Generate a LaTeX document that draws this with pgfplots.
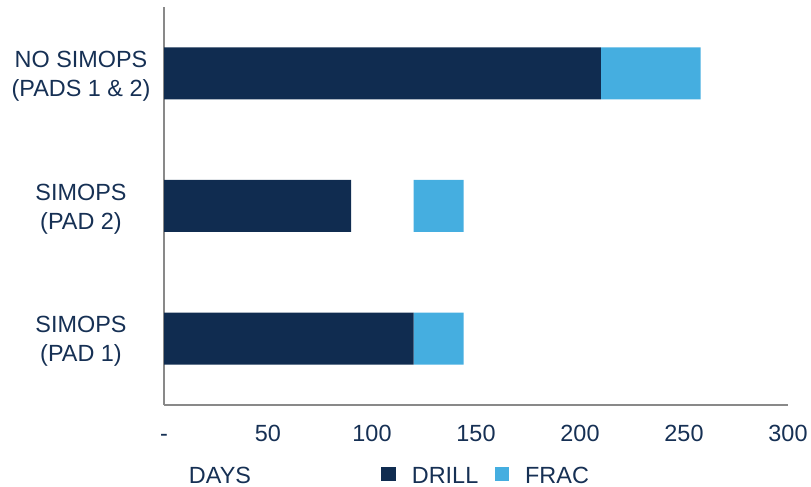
\documentclass[border=0pt]{standalone}
\usepackage{fontspec}
\setmainfont{Liberation Sans}
\usepackage{pgfplots}
\pgfplotsset{compat=1.18}
\definecolor{drill}{RGB}{16,44,80}
\definecolor{frac}{RGB}{69,174,224}
\definecolor{txt}{RGB}{22,48,84}
\definecolor{axgray}{RGB}{137,137,137}
\newcommand{\chartfont}{\fontsize{23.5}{29}\selectfont}
\begin{document}
\begin{tikzpicture}
\useasboundingbox (0,0) rectangle (811bp,487bp);
\begin{axis}[
  at={(164bp,82bp)}, anchor=south west,
  scale only axis, width=624bp, height=398bp,
  stack plots=x,
  xmin=0, xmax=300, ymin=-0.5, ymax=2.5,
  axis x line*=bottom, axis y line*=left,
  axis line style={draw=axgray, line width=1.4bp, -},
  xtick={0,50,100,150,200,250,300},
  xticklabels={-,50,100,150,200,250,300},
  ytick={0,1,2},
  yticklabels={{SIMOPS\\(PAD 1)},{SIMOPS\\(PAD 2)},{NO SIMOPS\\(PADS 1 \& 2)}},
  major tick length=0pt,
  tick label style={font=\chartfont, text=txt},
  xticklabel style={anchor=base, yshift=-36.7bp},
  yticklabel style={align=center, anchor=center, inner sep=0pt, xshift=-83bp, yshift=-3bp},
  xlabel={DAYS},
  xlabel style={at={(axis description cs:0.0897,-0.196)}, anchor=base, font=\chartfont, text=txt, inner sep=0pt},
  legend columns=2,
  legend style={at={(axis description cs:0.3478,-0.178)}, anchor=west, draw=none, fill=none,
    inner sep=0pt, outer sep=0pt, font=\chartfont, text=txt,
    nodes={inner sep=0pt},
    /tikz/every odd column/.style={column sep=16.5bp},
    /tikz/every even column/.style={column sep=17bp}},
]
\addplot[xbar, bar width=52bp, fill=drill, draw=none, forget plot]
  coordinates {(120,0) (90,1) (210,2)};
\addplot[xbar, bar width=52bp, fill=none, draw=none, forget plot]
  coordinates {(0,0) (30,1) (0,2)};
\addplot[xbar, bar width=52bp, fill=frac, draw=none, forget plot]
  coordinates {(24,0) (24,1) (48,2)};
\addlegendimage{legend image code/.code={\fill[drill] (0bp,-4.5bp) rectangle (14bp,9bp);}}
\addlegendentry{DRILL}
\addlegendimage{legend image code/.code={\fill[frac] (0bp,-4.5bp) rectangle (13bp,9bp);}}
\addlegendentry{FRAC}
\end{axis}
\end{tikzpicture}
\end{document}
